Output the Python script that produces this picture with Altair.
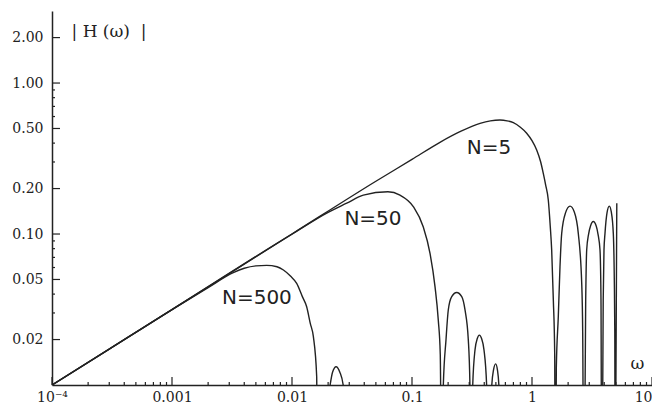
import altair as alt
import pandas as pd

# ---- data (omega, |H(omega)|) ----
n5_w = [0.0001, 0.001, 0.01, 0.05, 0.1, 0.171, 0.251, 0.369, 0.45, 0.541, 0.62, 0.699, 0.80, 0.903,
        1.0, 1.094, 1.18, 1.242, 1.30, 1.367, 1.42, 1.459, 1.506, 1.546, 1.563,
        1.595, 1.656, 1.711, 1.768, 1.902, 2.074, 2.252, 2.431, 2.596, 2.646, 2.705,
        2.802, 2.856, 2.963, 3.073, 3.242, 3.428, 3.548, 3.687, 3.758, 3.815,
        3.921, 3.98, 4.058, 4.217, 4.406, 4.579, 4.759, 4.851, 4.898, 4.934, 5.089]
n5_h = [0.01, 0.0316, 0.1, 0.2236, 0.312, 0.405, 0.476, 0.541, 0.562, 0.569, 0.562, 0.546, 0.509, 0.465,
        0.415, 0.36, 0.301, 0.252, 0.211, 0.168, 0.112, 0.0783, 0.0365, 0.0162, 0.001,
        0.013, 0.0283, 0.0607, 0.101, 0.138, 0.153, 0.14, 0.101, 0.0471, 0.022, 0.001,
        0.0365, 0.0783, 0.100, 0.113, 0.121, 0.113, 0.100, 0.0783, 0.0365, 0.001,
        0.0365, 0.0783, 0.101, 0.138, 0.153, 0.14, 0.101, 0.05, 0.022, 0.001, 0.16]

n50_w = [0.0001, 0.001, 0.01, 0.02, 0.0286, 0.0393, 0.063, 0.0794, 0.1025, 0.124, 0.1413, 0.1555,
         0.1656, 0.172, 0.1778,
         0.1823, 0.192, 0.2006, 0.2143, 0.2358, 0.2597, 0.2766, 0.2946, 0.304, 0.312,
         0.3205, 0.335, 0.35, 0.364, 0.38, 0.398, 0.419, 0.44,
         0.4616, 0.478, 0.498, 0.515, 0.53, 0.55]
n50_h = [0.01, 0.0316, 0.0998, 0.139, 0.16, 0.181, 0.1905, 0.181, 0.152, 0.1117, 0.0745, 0.0448,
         0.0269, 0.016, 0.001,
         0.0098, 0.0199, 0.0314, 0.0385, 0.041, 0.0385, 0.0314, 0.0199, 0.0098, 0.001,
         0.0098, 0.0171, 0.0203, 0.0214, 0.0203, 0.0171, 0.0098, 0.001,
         0.0098, 0.0126, 0.0138, 0.0126, 0.0098, 0.001]

n500_w = [0.0001, 0.0003, 0.001, 0.002, 0.00324, 0.004, 0.005, 0.00615, 0.0075, 0.00848, 0.0097,
          0.01094, 0.0122, 0.01325, 0.0142, 0.01507, 0.01606, 0.0163,
          0.0207, 0.0218, 0.0233, 0.025, 0.0268, 0.030]
n500_h = [0.01, 0.0173, 0.0316, 0.0442, 0.0555, 0.0593, 0.0615, 0.062, 0.0607, 0.0578, 0.0527,
          0.0471, 0.0385, 0.033, 0.0256, 0.0209, 0.01135, 0.001,
          0.0098, 0.0122, 0.0132, 0.0122, 0.0098, 0.001]

# curve labels
label_text = ["N=5", "N=50", "N=500"]
label_w = [0.438, 0.0473, 0.0051]
label_h = [0.371, 0.1257, 0.0377]

# axis ticks
x_major = [0.0001, 0.001, 0.01, 0.1, 1, 10]
x_minor = [0.0002, 0.0003, 0.0004, 0.0005, 0.0006, 0.0007, 0.0008, 0.0009,
           0.002, 0.003, 0.004, 0.005, 0.006, 0.007, 0.008, 0.009,
           0.02, 0.03, 0.04, 0.05, 0.06, 0.07, 0.08, 0.09,
           0.2, 0.3, 0.4, 0.5, 0.6, 0.7, 0.8, 0.9,
           2, 3, 4, 5, 6, 7, 8, 9]
y_major = [0.02, 0.05, 0.1, 0.2, 0.5, 1, 2]
y_minor = [0.03, 0.04, 0.06, 0.07, 0.08, 0.09, 0.3, 0.4, 0.6, 0.7, 0.8, 0.9]

rows = []
for name, ws, hs in [("N=5", n5_w, n5_h), ("N=50", n50_w, n50_h), ("N=500", n500_w, n500_h)]:
    for i, (w, h) in enumerate(zip(ws, hs)):
        rows.append({"series": name, "omega": w, "H": h, "order": i})
df = pd.DataFrame(rows)
labels_df = pd.DataFrame({"omega": label_w, "H": label_h, "text": label_text})

INK = "#222222"
W, H = 600, 374
x_scale = alt.Scale(type="log", domain=[0.0001, 10], nice=False)
y_scale = alt.Scale(type="log", domain=[0.01, 3], nice=False)

x_axis = alt.Axis(
    values=x_major, ticks=False, grid=False, domainColor=INK, domainWidth=1.5,
    labelFont="DejaVu Serif", labelFontSize=14, labelColor=INK, labelPadding=5,
    labelFlush=False, labelOverlap=False,
    labelAlign={"expr": "datum.value > 5 ? 'right' : 'center'"},
    labelExpr="datum.value < 0.0005 ? '10⁻⁴' : format(datum.value, '~g')",
    title="ω", titleFont="DejaVu Serif", titleFontSize=17, titleFontWeight="normal",
    titleColor=INK, titleX=585, titleY=-22, titleAlign="center", titleBaseline="middle",
)
y_axis = alt.Axis(
    values=y_major, format=".2f", ticks=False, grid=False, domainColor=INK, domainWidth=1.5,
    labelFont="DejaVu Serif", labelFontSize=14, labelColor=INK, labelPadding=9,
    labelFlush=False, labelOverlap=False,
    title="| H (ω)\u00a0\u00a0|", titleFont="DejaVu Serif", titleFontSize=17, titleFontWeight="normal",
    titleColor=INK, titleAngle=0, titleX=19, titleY=20, titleAlign="left", titleBaseline="middle",
)

X = alt.X("omega:Q", scale=x_scale, axis=x_axis)
Y = alt.Y("H:Q", scale=y_scale, axis=y_axis)

lines = alt.Chart(df).mark_line(
    clip=True, color=INK, strokeWidth=1.4, interpolate="monotone"
).encode(x=X, y=Y, detail="series:N", order="order:Q")

xt_major = alt.Chart(pd.DataFrame({"omega": x_major})).mark_rule(color=INK, strokeWidth=1.2).encode(
    x=X, y=alt.value(H), y2=alt.value(H - 8))
xt_minor = alt.Chart(pd.DataFrame({"omega": x_minor})).mark_rule(color=INK, strokeWidth=1.2).encode(
    x=X, y=alt.value(H), y2=alt.value(H - 3))
yt_major = alt.Chart(pd.DataFrame({"H": y_major})).mark_rule(color=INK, strokeWidth=1.2).encode(
    y=Y, x=alt.value(0), x2=alt.value(8))
yt_minor = alt.Chart(pd.DataFrame({"H": y_minor})).mark_rule(color=INK, strokeWidth=1.2).encode(
    y=Y, x=alt.value(0), x2=alt.value(3))

texts = alt.Chart(labels_df).mark_text(
    font="DejaVu Sans", fontSize=20, color=INK, align="center", baseline="middle"
).encode(x=X, y=Y, text="text:N")

chart = alt.layer(lines, xt_major, xt_minor, yt_major, yt_minor, texts).properties(
    width=W, height=H,
    autosize=alt.AutoSizeParams(type="none"),
    padding={"left": 44, "top": 3, "right": 0, "bottom": 19},
    background="white",
).configure_view(stroke=None)

chart.save("out.html", embed_options={"renderer": "svg", "actions": False})
